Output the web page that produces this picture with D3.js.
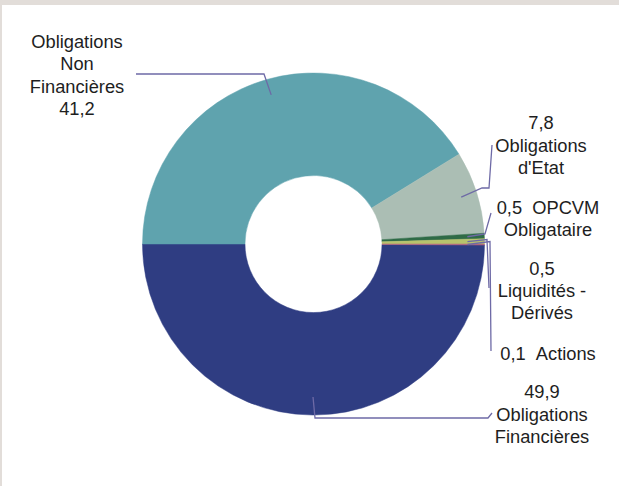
<!DOCTYPE html>
<html>
<head>
<meta charset="utf-8">
<script src="https://cdn.jsdelivr.net/npm/d3@7"></script>
<style>
  html, body { margin: 0; padding: 0; background: #ffffff; }
  svg { display: block; }
  text { font-family: "Liberation Sans", Arial, sans-serif; fill: #1e1e1e; }
</style>
</head>
<body>
<svg id="chart" width="619" height="486"></svg>
<script>
// ---- data ----
const categories = ["Obligations Financières", "Obligations Non Financières", "Obligations d'Etat", "OPCVM Obligataire", "Liquidités - Dérivés", "Actions"];
const values = [49.9, 41.2, 7.8, 0.5, 0.5, 0.1];
const colors = ["#2f3d82", "#5fa3ae", "#abbeb4", "#2f6b47", "#b8c36c", "#b0657e"];
// label lines for each slice ({v} = formatted value)
const labelLines = [
  ["{v}", "Obligations", "Financières"],
  ["Obligations", "Non", "Financières", "{v}"],
  ["{v}", "Obligations", "d'Etat"],
  ["{v}\u00a0\u00a0OPCVM", "Obligataire"],
  ["{v}", "Liquidités -", "Dérivés"],
  ["{v}\u00a0\u00a0Actions"]
];

// ---- layout ----
const cx = 313.5, cy = 244, rOuter = 171, rInner = 68.5;
const labelPos = [
  { x: 542, y: 398, lh: 22.5 },
  { x: 77,  y: 48,  lh: 22.4 },
  { x: 541, y: 129, lh: 22.5 },
  { x: 548, y: 214, lh: 21.5 },
  { x: 542, y: 275, lh: 21.8 },
  { x: 548, y: 360, lh: 22 }
];
// leader bends (after the anchor point inside the slice)
const leaderBends = [
  [[315, 418], [488, 418], [492, 413]],
  [[264, 74], [136, 74]],
  [[482, 188], [489, 188], [492, 145]],
  [[485, 234], [491, 213]],
  [[487, 239.5], [489, 288]],
  [[490, 241.5], [491, 351]]
];
const anchorR = [153, 155, 155, 154, 154, 154];

const svg = d3.select("#chart");
// frame
svg.append("rect").attr("x", 0).attr("y", 0).attr("width", 619).attr("height", 486).attr("fill", "#ffffff");
svg.append("rect").attr("x", 0).attr("y", 0).attr("width", 619).attr("height", 5).attr("fill", "#e2ddd9");
svg.append("rect").attr("x", 0).attr("y", 0).attr("width", 2).attr("height", 486).attr("fill", "#e2ddd9");

const data = categories.map((c, i) => ({ cat: c, value: values[i], i }));
const start = Math.PI * 2 * (270 / 360) - Math.PI * 2 * (values[0] / d3.sum(values));
const pie = d3.pie().value(d => d.value).sort(null)
  .startAngle(start)
  .endAngle(start + Math.PI * 2);
const arcs = pie(data);
const arc = d3.arc().innerRadius(rInner).outerRadius(rOuter);

const g = svg.append("g").attr("transform", `translate(${cx},${cy})`);
g.selectAll("path.slice").data(arcs).enter().append("path")
  .attr("class", "slice")
  .attr("d", arc)
  .attr("fill", d => colors[d.data.i])
  .attr("stroke", d => colors[d.data.i])
  .attr("stroke-width", 0.5);

// leaders
const fmt = v => d3.format(".1f")(v).replace(".", ",");
const line = d3.line();
arcs.forEach((a, k) => {
  const mid = (a.startAngle + a.endAngle) / 2;
  const r = anchorR[k];
  const p0 = [cx + r * Math.sin(mid), cy - r * Math.cos(mid)];
  const pts = [p0].concat(leaderBends[k]);
  svg.append("path").attr("d", line(pts))
    .attr("fill", "none").attr("stroke", "#6e6aa6").attr("stroke-width", 1.3);
});

// labels
arcs.forEach((a, k) => {
  const lp = labelPos[k];
  const t = svg.append("text").attr("text-anchor", "middle").attr("font-size", 18.3);
  labelLines[k].forEach((ln, j) => {
    t.append("tspan").attr("x", lp.x).attr("y", lp.y + j * lp.lh)
      .text(ln.replace("{v}", fmt(a.data.value)));
  });
});
</script>
</body>
</html>
